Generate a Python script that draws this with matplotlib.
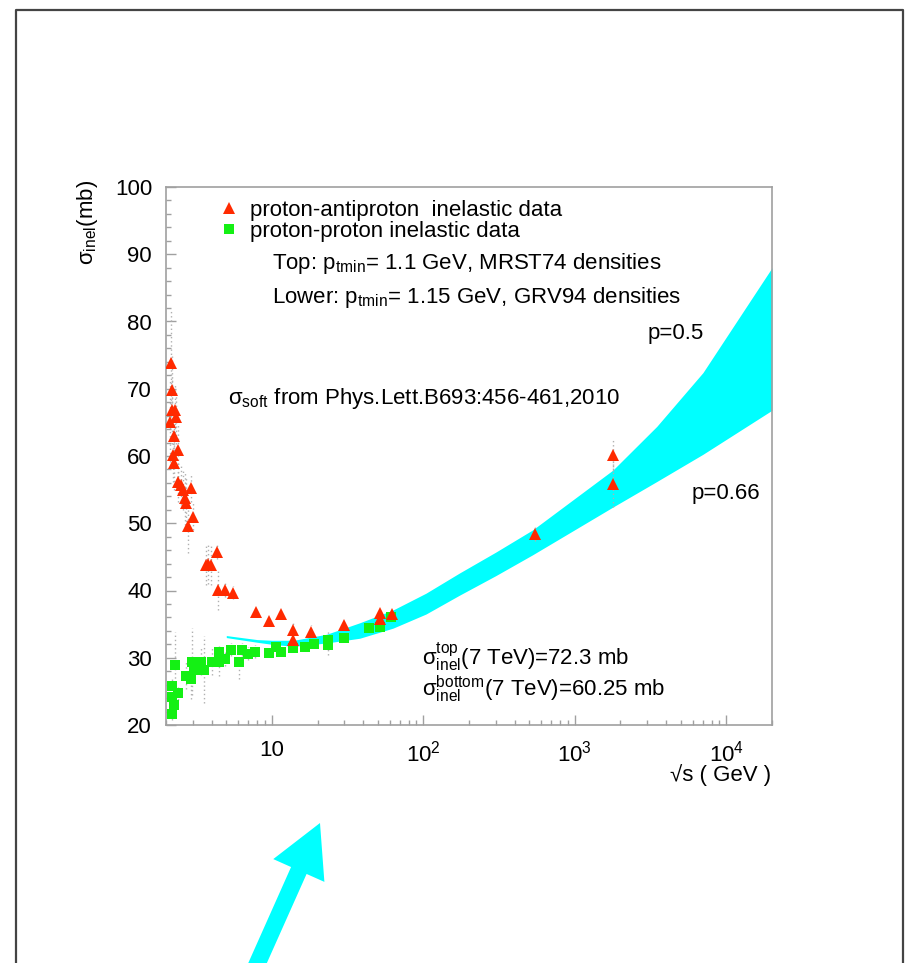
import matplotlib
matplotlib.use("Agg")
import matplotlib.pyplot as plt
from matplotlib.patches import FancyArrow
from matplotlib.ticker import FixedLocator, MultipleLocator, LogLocator, FuncFormatter, NullFormatter

plt.rcParams["font.family"] = ["Liberation Sans", "DejaVu Sans"]
plt.rcParams["mathtext.fontset"] = "custom"
plt.rcParams["mathtext.rm"] = "Liberation Sans"
plt.rcParams["mathtext.it"] = "Liberation Sans:italic"
plt.rcParams["mathtext.bf"] = "Liberation Sans:bold"
plt.rcParams["mathtext.default"] = "regular"

# proton-antiproton inelastic data (sqrt(s) in GeV, sigma in mb, error)
pbar_e = [2.17, 2.20, 2.18, 2.29, 2.32, 2.14, 2.26, 2.23, 2.40, 2.26, 2.41, 2.50, 2.59,
          2.91, 2.66, 2.72, 3.02, 2.81, 3.81, 3.67, 3.95, 4.31, 4.44, 4.89, 5.55, 7.84,
          9.60, 11.4, 13.7, 13.7, 18.1, 30.1, 51.8, 51.8, 61.7, 545, 1795, 1795]
pbar_sig = [73.8, 69.8, 66.8, 66.8, 65.8, 65.1, 62.9, 60.1, 60.9, 58.9, 56.2, 55.7, 54.9,
            55.2, 53.7, 53.0, 51.0, 49.6, 44.0, 43.8, 43.8, 45.7, 40.1, 40.1, 39.7, 36.8,
            35.5, 36.5, 34.1, 32.7, 33.9, 34.8, 36.6, 35.8, 36.5, 48.4, 60.1, 55.9]
pbar_err = [8, 5, 5, 4, 4, 6, 4, 4, 4, 4, 3, 3, 3,
            2, 4, 4, 2, 4, 3, 3, 3, 1, 3, 1, 1, 0.5,
            0.5, 0.5, 1, 1, 1, 0.5, 0.5, 0.5, 0.5, 1, 2.4, 3.5]

# proton-proton inelastic data
pp_e = [2.20, 2.26, 2.20, 2.41, 2.20, 2.29, 2.72, 2.93, 2.98, 3.06, 3.39, 3.57, 4.05,
        4.47, 4.47, 4.93, 5.36, 6.08, 6.39, 7.00, 7.76, 9.60, 10.6, 11.5, 13.7, 16.5,
        19.1, 23.3, 23.3, 30.1, 44.0, 51.8, 61.0]
pp_sig = [21.7, 23.0, 24.2, 24.7, 25.8, 28.9, 27.3, 26.8, 29.4, 28.2, 29.4, 28.2, 29.4,
          29.3, 30.8, 29.8, 31.2, 29.4, 31.2, 30.6, 30.9, 30.7, 31.6, 30.9, 31.4, 31.6,
          32.0, 32.6, 31.9, 33.0, 34.4, 34.5, 36.1]
pp_err = [1, 1, 1, 1, 1, 5, 2, 3, 5, 2, 2, 5, 2,
          2, 1, 1, 1, 2.5, 1, 1, 1, 0.5, 0.5, 0.5, 0.5, 0.5,
          0.5, 1.5, 1.5, 0.5, 0.5, 0.5, 0.5]

# model band: p=0.5 (top) and p=0.66 (bottom)
band_e = [5, 8, 10, 14, 23, 38, 63, 104, 173, 300, 525, 1780, 3470, 7000, 20000]
band_top = [33.3, 32.7, 32.6, 32.6, 33.5, 35.2, 37.1, 39.6, 42.6, 45.7, 49.0, 57.9, 64.4, 72.4, 88.0]
band_bot = [33.0, 32.3, 32.0, 31.7, 32.2, 32.9, 34.4, 36.5, 39.3, 42.2, 45.3, 52.4, 56.2, 60.25, 66.8]

x_ticks = [10, 100, 1000, 10000]
x_ticklabels = ["10", "$10^{2}$", "$10^{3}$", "$10^{4}$"]

W, H = 906, 963
FS = 16
RED = "#ff2a00"
GREEN = "#14f014"
CYAN = "#00ffff"

fig = plt.figure(figsize=(W / 100, H / 100), dpi=100)
ax = fig.add_axes([166 / W, 1 - 725 / H, (772 - 166) / W, (725 - 187) / H])

ax.fill_between(band_e, band_bot, band_top, color=CYAN, lw=0, zorder=1)

for e, s, err in [(pbar_e, pbar_sig, pbar_err), (pp_e, pp_sig, pp_err)]:
    eb = ax.errorbar(e, s, yerr=err, fmt="none", ecolor="#b0b0b0", elinewidth=1, zorder=2)
    for lc in eb.lines[2]:
        lc.set_linestyle((0, (1, 2)))

pp_line, = ax.plot(pp_e, pp_sig, "s", color=GREEN, ms=7.5, mew=0, zorder=3)
pbar_line, = ax.plot(pbar_e, pbar_sig, "^", color=RED, ms=9, mew=0, zorder=4)

ax.set_xscale("log")
ax.set_xlim(2, 20000)
ax.set_ylim(20, 100)

ax.xaxis.set_major_locator(FixedLocator(x_ticks))
ax.xaxis.set_major_formatter(FuncFormatter(
    lambda v, p: x_ticklabels[x_ticks.index(round(v))] if round(v) in x_ticks else ""))
ax.xaxis.set_minor_locator(LogLocator(base=10, subs=range(2, 10)))
ax.xaxis.set_minor_formatter(NullFormatter())
ax.yaxis.set_major_locator(MultipleLocator(10))
ax.yaxis.set_minor_locator(MultipleLocator(2))

for sp in ax.spines.values():
    sp.set_color("#a0a0a0")
    sp.set_linewidth(1.2)
ax.tick_params(which="both", direction="in", color="#a0a0a0", labelsize=FS,
               top=False, right=False)
ax.tick_params(which="major", length=7, width=1)
ax.tick_params(which="minor", length=3.5, width=1)
ax.tick_params(axis="x", pad=11)
ax.tick_params(axis="y", pad=10)

ax.legend([pbar_line, pp_line],
          ["proton-antiproton  inelastic data", "proton-proton inelastic data"],
          loc="upper left", bbox_to_anchor=(0.06, 1.005), frameon=False, fontsize=FS,
          handlelength=1.0, handletextpad=0.45, labelspacing=0.0, borderpad=0.2,
          markerscale=1.0)

tx = dict(transform=ax.transAxes, fontsize=FS, ha="left", va="center")
ax.text(0.175, 0.858, "Top: p$_{\\rm tmin}$= 1.1 GeV, MRST74 densities", **tx)
ax.text(0.175, 0.794, "Lower: p$_{\\rm tmin}$= 1.15 GeV, GRV94 densities", **tx)
ax.text(0.795, 0.728, "p=0.5", **tx)
ax.text(0.102, 0.606, "σ$_{\\rm soft}$ from Phys.Lett.B693:456-461,2010", **tx)
ax.text(0.868, 0.430, "p=0.66", **tx)
ax.text(0.422, 0.127, "σ$_{\\rm inel}^{\\rm top}$(7 TeV)=72.3 mb", **tx)
ax.text(0.422, 0.066, "σ$_{\\rm inel}^{\\rm bottom}$(7 TeV)=60.25 mb", **tx)

fig.text(87 / W, 1 - 180 / H, "σ$_{\\rm inel}$(mb)", rotation=90, ha="center", va="top",
         fontsize=FS)
fig.text(771 / W, 1 - 775 / H, "√s ( GeV )", ha="right", va="center", fontsize=FS)

# page frame and arrow
ov = fig.add_axes([0, 0, 1, 1], zorder=5)
ov.set_xlim(0, W)
ov.set_ylim(H, 0)
ov.axis("off")
ov.patch.set_alpha(0)
ov.plot([15.5, 15.5, 903, 903], [H, 10, 10, H], color="#444444", lw=1.6)
ov.add_patch(FancyArrow(250, 980, 70, -157, width=17, head_width=56, head_length=52,
                        length_includes_head=True, color=CYAN, lw=0))

fig.savefig("out.png", dpi=100)
